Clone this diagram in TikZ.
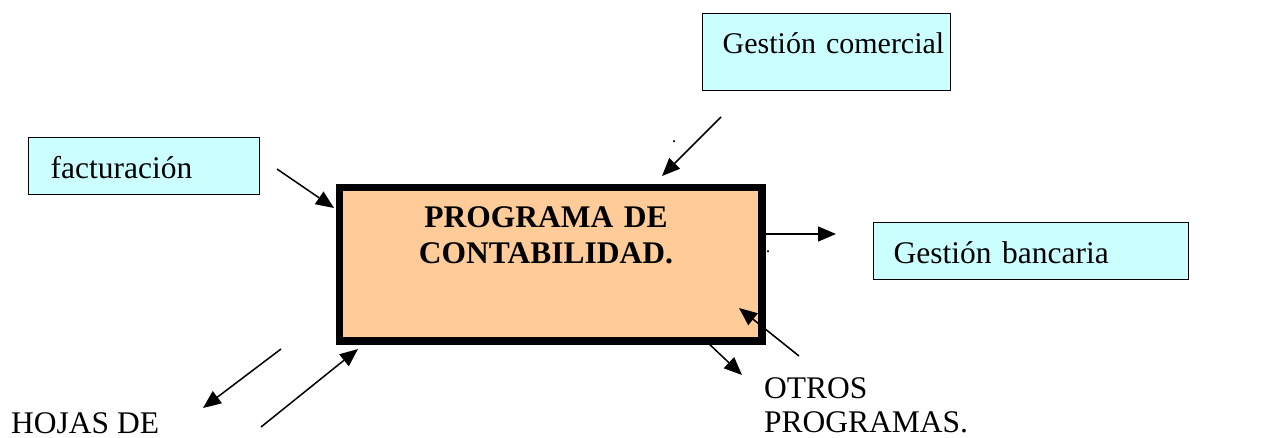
\documentclass[tikz,border=0pt]{standalone}
\usepackage{fontspec}
\setmainfont{Liberation Serif}
\usetikzlibrary{arrows.meta}
\definecolor{lightcyan}{HTML}{CCFFFF}
\definecolor{peach}{HTML}{FFCC99}
\begin{document}
\begin{tikzpicture}[x=1pt,y=-1pt,
  bigfont/.style={font=\fontsize{31.5}{35}\selectfont},
  cyanbox/.style={draw=black, line width=1.4pt, fill=lightcyan, anchor=north west,
    inner ysep=0pt, align=left, bigfont},
  flow/.style={line width=1.5pt, -{Triangle[length=18pt,width=15pt]}},
  plain/.style={anchor=base west, bigfont, inner sep=0pt},
  dotmark/.style={anchor=base, inner sep=0pt, font=\fontsize{18}{18}\selectfont}
]
\path[use as bounding box] (0,0) rectangle (1264,437);

% boxes
\node[cyanbox, inner xsep=20pt, text width=208pt, text height=40pt, text depth=37pt,
  font=\fontsize{30}{35}\selectfont]
  (comercial) at (702,13) {\mbox{Gestión comercial}};
\node[cyanbox, inner xsep=22pt, text width=187pt, text height=41pt, text depth=16pt]
  (facturacion) at (28,137) {\mbox{facturación}};
\node[cyanbox, inner xsep=20pt, text width=275pt, text height=41pt, text depth=16pt]
  (bancaria) at (873,222) {\mbox{Gestión bancaria}};

\node[draw=black, line width=7.5pt, fill=peach, anchor=north west, inner sep=0pt,
  minimum width=422.5pt, minimum height=153.5pt] (main) at (335.75,183.75) {};
\node[anchor=base, inner sep=0pt, text width=320pt, align=center,
  font=\fontsize{31.5}{36}\selectfont\bfseries] (maintext) at (546,227)
  {PROGRAMA DE\\CONTABILIDAD.};

% free texts
\node[plain] (hojas) at (11,433) {HOJAS DE};
\node[plain, text width=200pt, align=left, font=\fontsize{31.5}{34}\selectfont]
  (otros) at (764,398) {OTROS\\PROGRAMAS.};

% small dots
\node[dotmark] (dotA) at (674,142) {.};
\node[dotmark] (dotB) at (768,252) {.};

% arrow end points
\coordinate (fA) at (277,169);
\coordinate (fB) at (334,208);
\coordinate (cA) at (721,117);
\coordinate (cB) at (662,176);
\coordinate (bA) at (762,234);
\coordinate (bB) at (836,234);
\coordinate (oA) at (799,356);
\coordinate (oB) at (739,308);
\coordinate (pA) at (707,342);
\coordinate (pB) at (742,375);
\coordinate (hA) at (281,349);
\coordinate (hB) at (203,408);
\coordinate (iA) at (261,427);
\coordinate (iB) at (358,349);

\draw[flow] (fA) -- (fB);
\draw[flow] (cA) -- (cB);
\draw[flow] (bA) -- (bB);
\draw[flow] (oA) -- (oB);
\draw[flow] (pA) -- (pB);
\draw[flow] (hA) -- (hB);
\draw[flow] (iA) -- (iB);
\end{tikzpicture}
\end{document}
